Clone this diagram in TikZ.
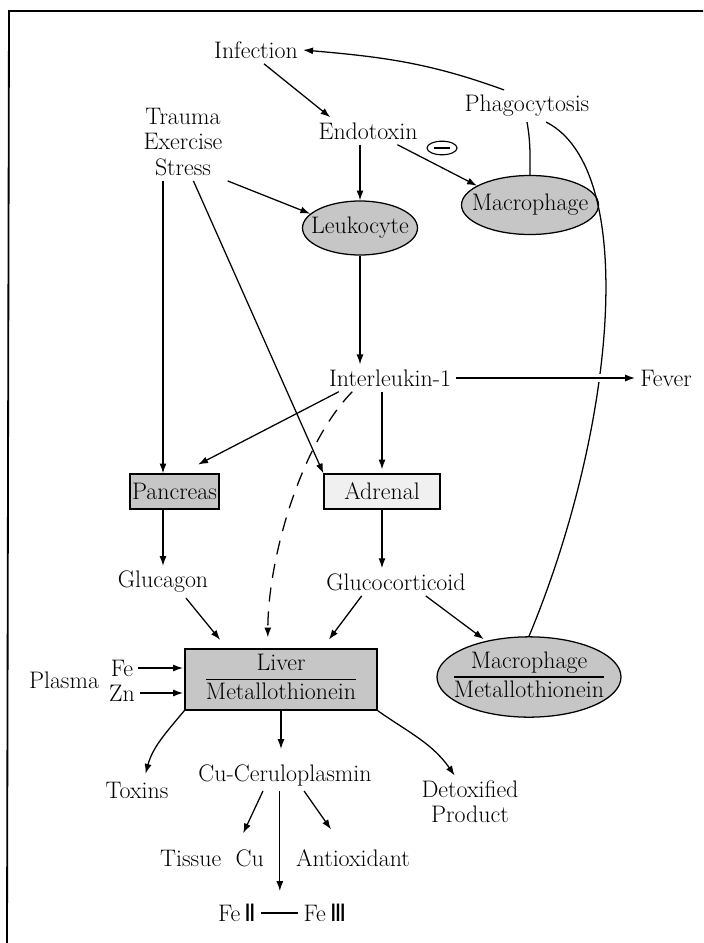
\documentclass[tikz,border=0pt]{standalone}
\usepackage{fontspec}
\newfontfamily\romfont{DejaVu Sans}
\usetikzlibrary{arrows.meta,positioning,shapes.geometric,calc}
\setlength{\arrayrulewidth}{0.8pt}
\renewcommand{\arraystretch}{1.1}

\begin{document}
\begin{tikzpicture}[x=0.25mm,y=-0.25mm,>={Latex[length=7pt,width=5pt]},
  line width=0.9pt,font=\fontsize{17}{18}\selectfont,
  cell/.style={draw,ellipse,fill=gray!45,inner sep=0pt},
  organ/.style={draw,rectangle,fill=gray!45,inner sep=1pt,minimum height=8.75mm}]

  \useasboundingbox (0,0) rectangle (703,943);
  % frame (only top and left edges are printed)
  \draw[line width=1.3pt] (703,11) -- (9,11) -- (7,943);

  % Top row: triggers
  \node (Inf)  at (256,50)  {Infection};
  \node (Phg)  at (527,106) {Phagocytosis};
  \node[align=center] (TES) at (183,142) {Trauma\\Exercise\\Stress};
  \node (Endo) at (368,131) {Endotoxin};
  \node[draw,ellipse,minimum width=7.5mm,minimum height=3.4mm,inner sep=0pt,line width=0.8pt] (Neg) at (442,148) {\rule{4.2mm}{0.9pt}};

  % Cells (text boxed at zero width so the ellipse keeps its size)
  \node[cell,minimum width=28.75mm,minimum height=13.5mm] (Leu) at (360,228) {\makebox[0pt]{Leukocyte}};
  \node[cell,minimum width=34.25mm,minimum height=14.75mm] (Mac) at (530,205) {\makebox[0pt]{Macrophage}};

  % Mediator
  \node (IL)  at (390,378) {Interleukin-1};
  \node (Fev) at (666,378) {Fever};

  % Glands and hormones
  \node[organ,minimum width=22.25mm] (Pan) at (174.5,491.5) {Pancreas};
  \node[organ,minimum width=29mm,fill=gray!12] (Adr) at (382,491.5) {Adrenal};
  \node (Glu) at (163,582) {Glucagon};
  \node (Gcc) at (396,582) {Glucocorticoid};

  % Metallothionein
  \node[organ,minimum width=48mm,minimum height=15.25mm] (Liv) at (281,679.5)
    {\begin{tabular}{@{}c@{}}Liver\\\hline Metallothionein\end{tabular}};
  \node[cell,minimum width=46mm,minimum height=19.75mm] (MMT) at (529,677)
    {\makebox[0pt]{\begin{tabular}{@{}c@{}}Macrophage\\\hline Metallothionein\end{tabular}}};
  \node (Pla) at (64,680)  {Plasma};
  \node (Fe)  at (122,668) {Fe};
  \node (Zn)  at (122,693) {Zn};

  % Products
  \node (Tox) at (137,790) {Toxins};
  \node (Cu)  at (285,775) {Cu-Ceruloplasmin};
  \node[align=center] (Det) at (470,802) {Detoxified\\Product};
  \node (Tis) at (212,858) {Tissue~~Cu};
  \node (Ant) at (353,858) {Antioxidant};
  \node (Fe2) at (237,913) {Fe\,{\romfont Ⅱ}};
  \node (Fe3) at (325,913) {Fe\,{\romfont Ⅲ}};

  % 1) infection loop
  \draw[->] (Inf.-60) -- (Endo.160);
  \draw[->] (Phg.145) to[out=160,in=-5] (Inf.east);
  \draw (Phg.south) to[out=-80,in=90] (Mac.north);
  \draw (Phg.-40) .. controls (640,170) and (615,430) .. (MMT.north);

  % 2) endotoxin and stress
  \draw[->] (Endo.south -| Leu.north) -- (Leu.north);
  \draw[->] (Endo.-25) -- (Mac.160);
  \draw[->] (TES.south east) -- (Leu.164);
  \draw[->] (TES.south -| Glu) -- (Pan.north -| Glu);
  \draw[->] (TES.-75) -- (Adr.north west);

  % 3) interleukin-1
  \draw[->] (Leu.south) -- (Leu.south |- IL.north);
  \draw[->,preaction={draw=white,line width=5pt}] (IL.east) -- (Fev.west);
  \draw[->,shorten >=4.8mm] (IL.195) -- (Pan.70);
  \draw[->,dash pattern=on 10pt off 7pt,shorten >=2.75mm] (IL.200) .. controls (300,445) and (268,560) .. (Liv.113);
  \draw[->,shorten >=1mm] (IL.south -| Adr.north) -- (Adr.north);

  % 4) hormones
  \draw[->] (Pan.south -| Glu) -- (Glu.north);
  \draw[->] (Adr.south) -- (Adr.south |- Gcc.north);
  \draw[->,shorten >=2.75mm] (Glu.-35) -- (Liv.150);
  \draw[->,shorten >=2.75mm] (Gcc.202) -- (Liv.37);
  \draw[->,shorten >=2pt] (Gcc.-25) -- (MMT.140);
  \draw[->,shorten >=1pt] (Fe.east) -- (Fe.east -| Liv.west);
  \draw[->,shorten >=1pt] (Zn.east) -- (Zn.east -| Liv.west);

  % 5) liver outputs
  \draw[->,shorten >=2pt] (Liv.south west) to[out=-130,in=75] (Tox.60);
  \draw[->,shorten >=2.5mm] (Liv.south) -- (Liv.south |- Cu.north);
  \draw[->] (Liv.south east) to[out=-35,in=125] (Det.120);
  \draw[->,shorten >=3mm] (Cu.216) -- (Tis.28);
  \draw[->,shorten >=4.5mm] (Cu.-40) -- (Ant.130);
  \draw (Fe2.east) -- (Fe3.west);
  \coordinate (FeMid) at ($(Fe2.east)!0.5!(Fe3.west)$);
  \draw[->,shorten >=5.5mm] (Cu.south -| FeMid) -- (FeMid);
\end{tikzpicture}
\end{document}
